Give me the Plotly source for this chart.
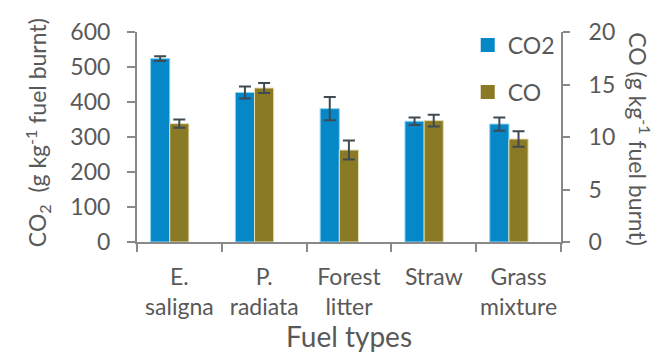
import plotly.graph_objects as go

categories = ["E.<br>saligna", "P.<br>radiata", "Forest<br>litter", "Straw", "Grass<br>mixture"]
co2_values = [524, 427, 381, 345, 337]
co2_errors = [7, 17, 33, 11, 19]
co_values = [11.27, 14.67, 8.76, 11.56, 9.81]
co_errors = [0.4, 0.47, 0.9, 0.55, 0.74]

FONT = "Lato"
TXT = "#595959"
AX = "#898989"
BLUE = "#0587c8"
OLIVE = "#8a7a26"

fig = go.Figure()
fig.add_trace(go.Bar(
    x=categories, y=co2_values, name="CO2", yaxis="y", showlegend=False,
    marker=dict(color=BLUE, line=dict(color="#8fd3f2", width=1)),
    width=0.226, offset=-0.34,
    error_y=dict(type="data", array=co2_errors, color="#3f4a52", thickness=2, width=6),
))
fig.add_trace(go.Bar(
    x=categories, y=co_values, name="CO", yaxis="y2", showlegend=False,
    marker=dict(color=OLIVE, line=dict(color="#e6dfb5", width=1)),
    width=0.226, offset=-0.114,
    error_y=dict(type="data", array=co_errors, color="#3f4a52", thickness=2, width=6),
))
# legend entries with larger square swatches
fig.add_trace(go.Scatter(x=[None], y=[None], mode="markers", name="CO2", legendgroup="a",
                         marker=dict(symbol="square", size=14, color=BLUE)))
fig.add_trace(go.Scatter(x=[None], y=[None], mode="markers", name="CO", legendgroup="b",
                         marker=dict(symbol="square", size=14, color=OLIVE)))

fig.update_layout(
    width=660, height=351,
    margin=dict(l=129, r=107, t=24, b=117, autoexpand=False),
    paper_bgcolor="white", plot_bgcolor="white",
    font=dict(family=FONT, size=22, color=TXT),
    barmode="overlay",
    showlegend=True,
    legend=dict(x=0.78, y=1.04, xanchor="left", yanchor="top",
                traceorder="grouped", tracegroupgap=14, itemwidth=30,
                font=dict(size=23, color=TXT), bgcolor="rgba(0,0,0,0)"),
    xaxis=dict(
        showline=True, linecolor=AX, linewidth=2, automargin=False,
        ticks="outside", ticklen=8, tickcolor=AX, tickwidth=2,
        tickson="boundaries", tickangle=0, tickfont=dict(size=23, color=TXT),
        ticklabelstandoff=13,
        title=dict(text="Fuel types", font=dict(size=28, color=TXT), standoff=6),
        showgrid=False,
    ),
    yaxis=dict(
        range=[0, 600], dtick=100, showgrid=False, zeroline=False, automargin=False,
        showline=True, linecolor=AX, linewidth=2,
        ticks="outside", ticklen=8, tickcolor=AX, tickwidth=2,
        tickfont=dict(size=23, color=TXT), ticklabelstandoff=12,
    ),
    yaxis2=dict(
        range=[0, 20], dtick=5, overlaying="y", side="right", showgrid=False, zeroline=False,
        automargin=False,
        showline=True, linecolor=AX, linewidth=2,
        ticks="outside", ticklen=7, tickcolor=AX, tickwidth=2,
        tickfont=dict(size=23, color=TXT), ticklabelstandoff=14,
    ),
    annotations=[
        dict(text="CO<sub>2</sub>  (g kg<sup>-1</sup> fuel burnt)", textangle=-90,
             xref="paper", yref="paper", x=-0.235, y=0.52, xanchor="center", yanchor="middle",
             showarrow=False, font=dict(size=23, color=TXT)),
        dict(text="CO (g kg<sup>-1</sup> fuel burnt)", textangle=90,
             xref="paper", yref="paper", x=1.186, y=0.49, xanchor="center", yanchor="middle",
             showarrow=False, font=dict(size=23, color=TXT)),
    ],
)

fig.write_html("out.html")
